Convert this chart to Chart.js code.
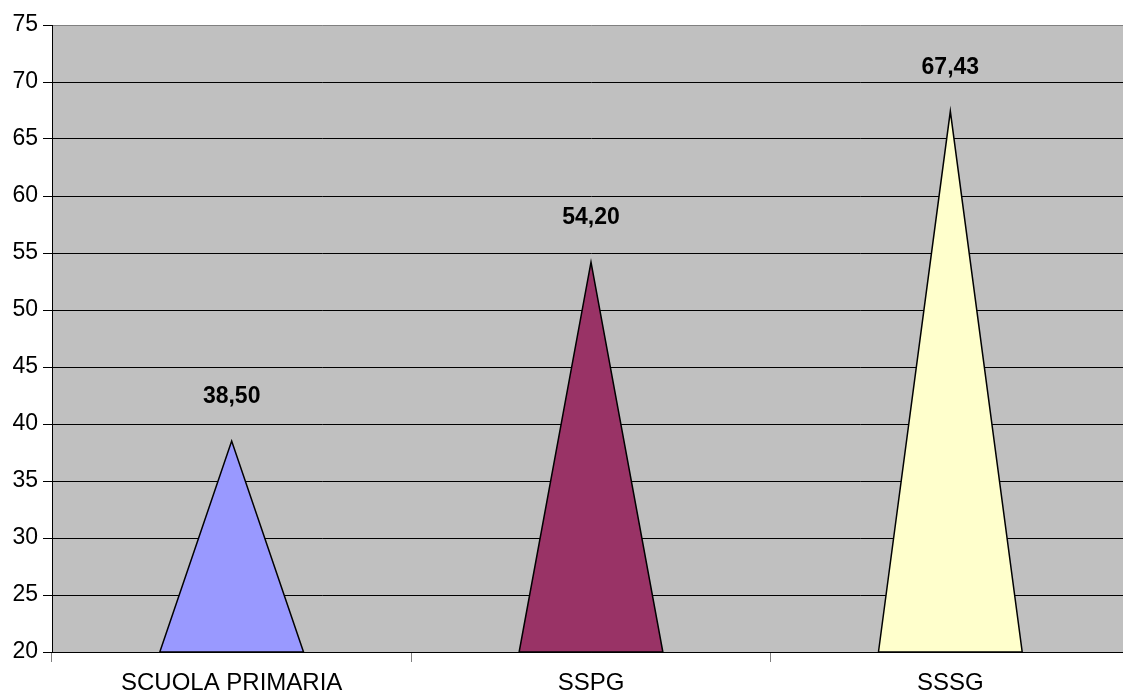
<!DOCTYPE html>
<html>
<head>
<meta charset="utf-8">
<script src="https://cdn.jsdelivr.net/npm/chart.js@4.4.1/dist/chart.umd.min.js"></script>
<style>
    body { margin: 0; overflow: hidden; background: #fff; }
    #wrap { width: 1130px; height: 697px; }
</style>
</head>
<body>
<div id="wrap"><canvas id="coneChart"></canvas></div>
<script>
const categories = ["SCUOLA PRIMARIA", "SSPG", "SSSG"];
const values = [38.50, 54.20, 67.43];
const fillColors = ["#9999FF", "#993366", "#FFFFCC"];
const yMin = 20;
const yMax = 75;
const yStep = 5;

const fontFamily = "'Liberation Sans', Arial, sans-serif";

// gray plot background
const plotBackground = {
    id: "plotBackground",
    beforeDraw(chart) {
        const { ctx, chartArea } = chart;
        ctx.save();
        ctx.fillStyle = "#C0C0C0";
        ctx.fillRect(chartArea.left, chartArea.top, chartArea.right - chartArea.left, chartArea.bottom - chartArea.top);
        ctx.restore();
    }
};

// draw each bar as a triangle standing on the axis minimum, plus the value label
const triangleBars = {
    id: "triangleBars",
    afterDatasetsDraw(chart) {
        const ctx = chart.ctx;
        const meta = chart.getDatasetMeta(0);
        const base = chart.scales.y.getPixelForValue(yMin);
        ctx.save();
        meta.data.forEach((bar, i) => {
            const half = bar.width / 2;
            ctx.beginPath();
            ctx.moveTo(bar.x - half, base);
            ctx.lineTo(bar.x, bar.y);
            ctx.lineTo(bar.x + half, base);
            ctx.closePath();
            ctx.fillStyle = fillColors[i];
            ctx.fill();
            ctx.lineWidth = 1.5;
            ctx.strokeStyle = "#000";
            ctx.stroke();

            ctx.fillStyle = "#000";
            ctx.font = "bold 23px " + fontFamily;
            ctx.textAlign = "center";
            ctx.textBaseline = "middle";
            ctx.fillText(values[i].toFixed(2).replace(".", ","), bar.x, bar.y - 44);
        });
        ctx.restore();
    }
};

new Chart(document.getElementById("coneChart"), {
    type: "bar",
    data: {
        labels: categories,
        datasets: [{
            data: values,
            backgroundColor: "rgba(0,0,0,0)",
            borderWidth: 0,
            categoryPercentage: 1,
            barPercentage: 0.4
        }]
    },
    options: {
        responsive: true,
        maintainAspectRatio: false,
        animation: false,
        layout: { padding: { top: 25, left: 0, right: 0, bottom: 0 } },
        plugins: {
            legend: { display: false },
            tooltip: { enabled: false }
        },
        scales: {
            x: {
                offset: true,
                grid: {
                    offset: true,
                    drawOnChartArea: false,
                    tickLength: 10,
                    color: "#808080"
                },
                border: { color: "#000", width: 1 },
                ticks: {
                    color: "#000",
                    padding: 7,
                    maxRotation: 0,
                    font: { family: fontFamily, size: 24 }
                },
                afterFit(scale) { scale.height = 45; }
            },
            y: {
                min: yMin,
                max: yMax,
                ticks: {
                    stepSize: yStep,
                    color: "#000",
                    padding: 5,
                    font: { family: fontFamily, size: 23 }
                },
                grid: {
                    color: ctx => ctx.tick && ctx.tick.value === yMax ? "#808080" : "#000",
                    tickColor: "#000",
                    tickLength: 9,
                    lineWidth: 1
                },
                border: { color: "#000", width: 1 },
                afterFit(scale) { scale.width = 52; }
            }
        }
    },
    plugins: [plotBackground, triangleBars]
});
</script>
</body>
</html>
